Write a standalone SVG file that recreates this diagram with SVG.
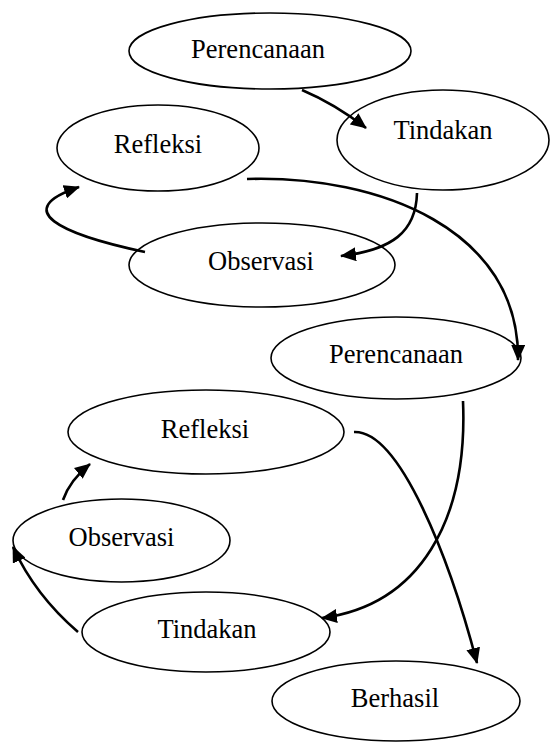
<svg xmlns="http://www.w3.org/2000/svg" width="550" height="742" viewBox="0 0 550 742">
<style>
.n ellipse{fill:#fff;stroke:#000;stroke-width:1.6}
.n text{font-family:"Liberation Serif","Times New Roman",serif;font-size:26.5px;fill:#000;text-anchor:middle}
.c path{fill:none;stroke:#000;stroke-width:2.6;marker-end:url(#ah)}
</style>
<defs>
<marker id="ah" markerUnits="userSpaceOnUse" markerWidth="16" markerHeight="14" refX="15" refY="7" orient="auto">
<path d="M0,0 L16,7 L0,14 Z" fill="#000"/>
</marker>
</defs>
<rect width="550" height="742" fill="#fff"/>
<g id="n1" class="n"><ellipse cx="270" cy="51" rx="141" ry="38"/><text x="258" y="58">Perencanaan</text></g>
<g id="n2" class="n"><ellipse cx="443" cy="140" rx="106" ry="50"/><text x="443" y="139">Tindakan</text></g>
<g id="n3" class="n"><ellipse cx="158" cy="148" rx="101" ry="43"/><text x="158" y="153">Refleksi</text></g>
<g id="n4" class="n"><ellipse cx="262" cy="265" rx="133" ry="42"/><text x="261" y="270">Observasi</text></g>
<g id="n5" class="n"><ellipse cx="396" cy="358" rx="125" ry="41"/><text x="396" y="363">Perencanaan</text></g>
<g id="n6" class="n"><ellipse cx="206" cy="432" rx="138" ry="42"/><text x="205" y="438">Refleksi</text></g>
<g id="n7" class="n"><ellipse cx="121.5" cy="540.5" rx="108.5" ry="41.5"/><text x="121.5" y="546">Observasi</text></g>
<g id="n8" class="n"><ellipse cx="206" cy="632" rx="124" ry="40"/><text x="207" y="638">Tindakan</text></g>
<g id="n9" class="n"><ellipse cx="396" cy="701" rx="124" ry="40"/><text x="395" y="707">Berhasil</text></g>
<g id="connectors" class="c">
<path d="M302,90 Q335,104 366,128"/>
<path d="M417,193 C416,232 392,250 341,256"/>
<path d="M145,252 C60,234 10,210 79,187"/>
<path d="M247,179 C380,175 520,230 518,360"/>
<path d="M463,401 C468,520 420,605 322,618"/>
<path d="M354,432 C400,430 450,560 477,663"/>
<path d="M63,500 Q70,480 90,464"/>
<path d="M78,632 Q35,595 13,547"/>
</g>
</svg>
